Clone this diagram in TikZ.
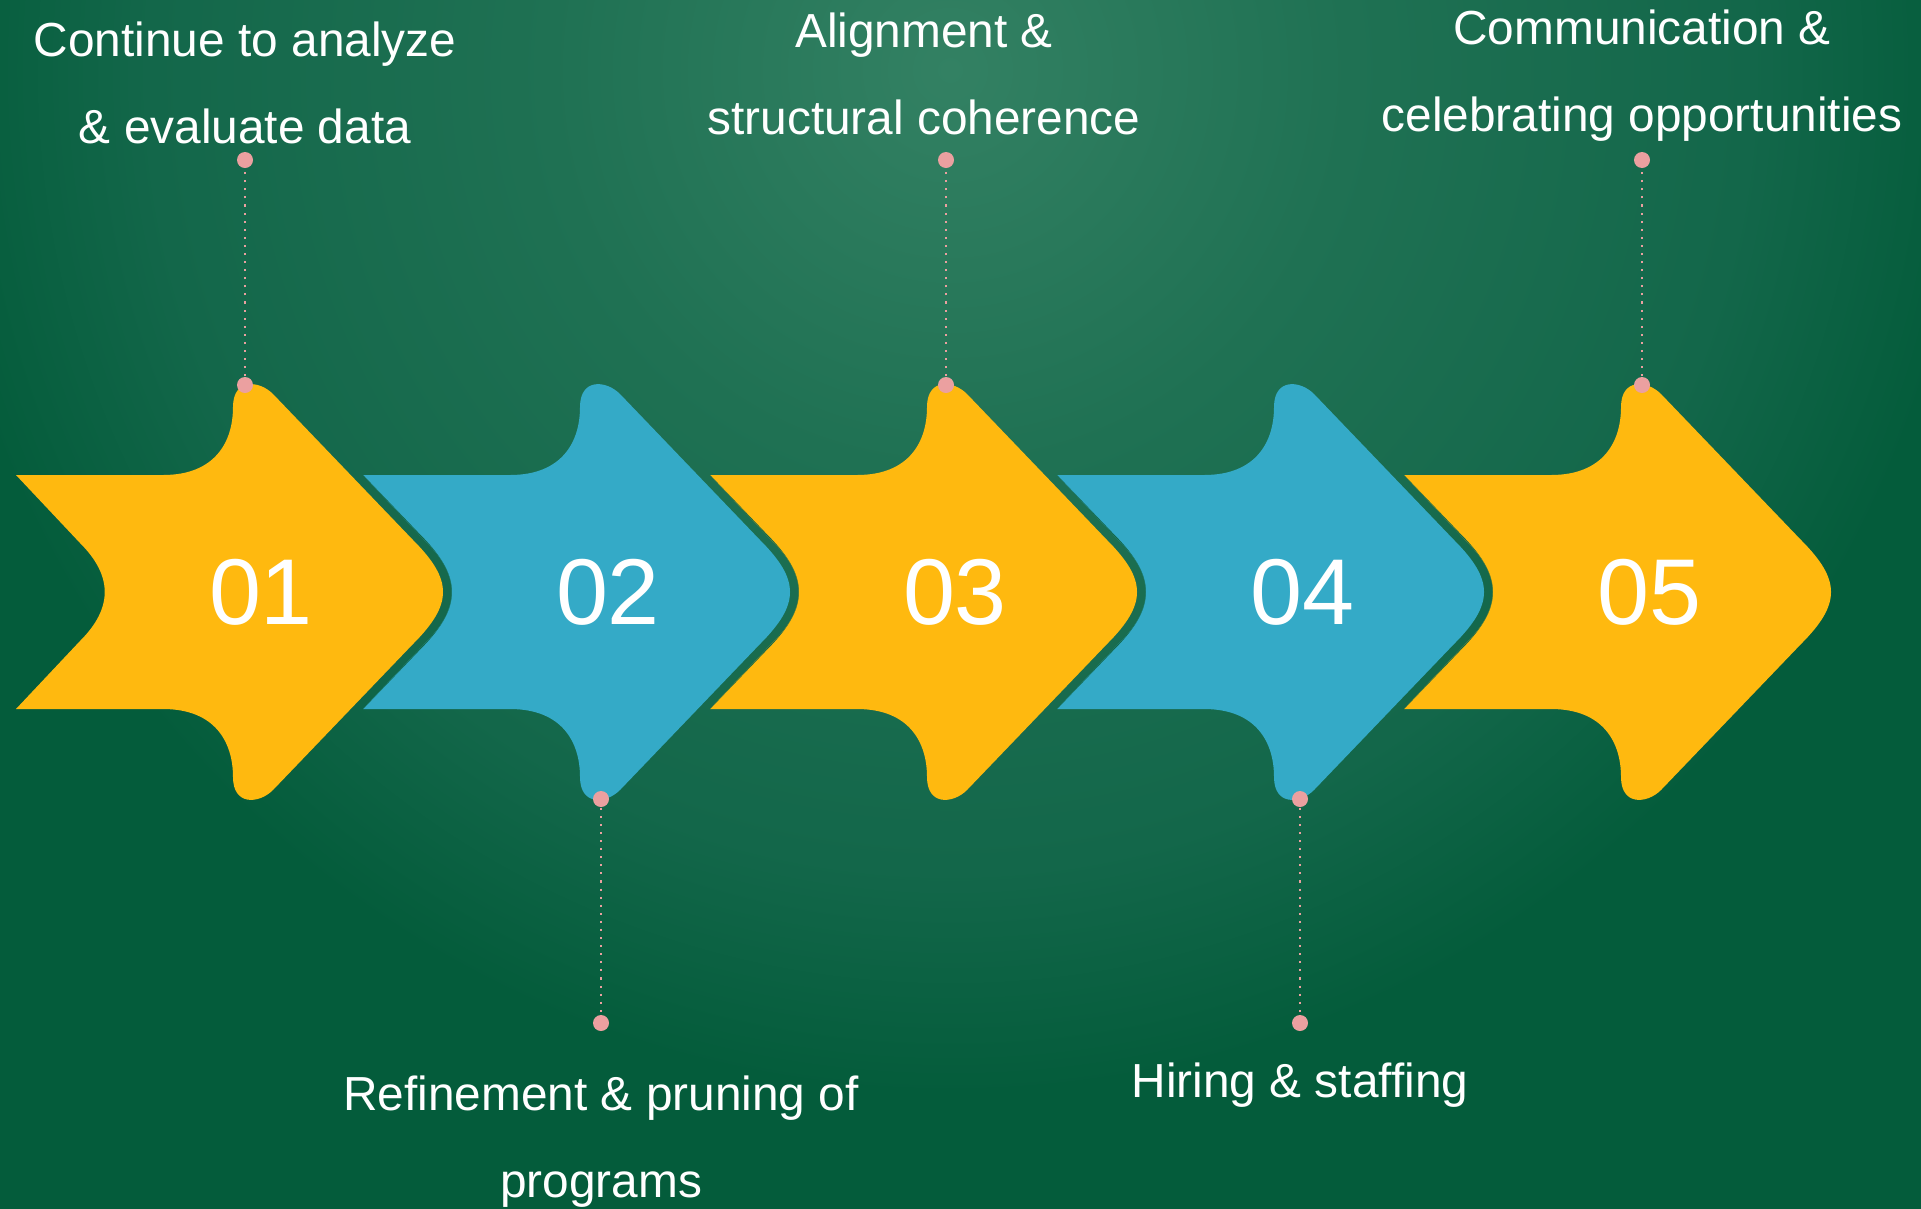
\documentclass[tikz,border=0pt]{standalone}
\usepackage{fontspec}
\setmainfont{Liberation Sans}
\usetikzlibrary{positioning,calc}

\definecolor{bgLight}{HTML}{338163}
\definecolor{bgMidA}{HTML}{1F7153}
\definecolor{bgMidB}{HTML}{13674A}
\definecolor{bgDark}{HTML}{045C3B}
\definecolor{edgeGreen}{HTML}{13684A}
\definecolor{arrowYellow}{HTML}{FFB90F}
\definecolor{arrowBlue}{HTML}{34AAC7}
\definecolor{dotPink}{HTML}{EBA0A0}

\pgfdeclareradialshading{bgGlow}{\pgfpoint{0bp}{0bp}}{color(0bp)=(bgLight); color(8bp)=(bgMidA); color(16bp)=(bgMidB); color(20.5bp)=(bgDark); color(50bp)=(bgDark)}

% one notched arrow, tail at (0,0), pointing right
\newcommand{\arrowPath}{(0,-117) -- (147,-117)
  .. controls (199,-117) and (217,-150) .. (217,-185)
  .. controls (217,-214) and (243,-212) .. (257,-198) -- (397,-52)
  .. controls (437,-12) and (437,12) .. (397,52) -- (257,198)
  .. controls (243,212) and (217,214) .. (217,185)
  .. controls (217,150) and (199,117) .. (147,117) -- (0,117) -- (64,49)
  .. controls (97,16) and (97,-16) .. (64,-49) -- cycle}

\tikzset{
  arrowEdge/.style={draw=edgeGreen,line width=5.1pt,line join=round},
  stepNum/.style={text=white,font=\fontsize{26.6}{30}\selectfont,inner sep=0pt},
  pinDot/.style={circle,fill=dotPink,minimum size=1.6mm,inner sep=0pt},
  pinLine/.style={draw=dotPink,line width=0.6pt,dash pattern=on 0.6pt off 1.7pt},
  stepLabel/.style={text=white,align=center,anchor=base,inner sep=0pt,
    font=\fontsize{13.6}{24.75}\selectfont},
}

\begin{document}
\begin{tikzpicture}[x=0.1mm, y=-0.1mm]

% ===== Background =====
\useasboundingbox (0,0) rectangle (1921,1208);
\begin{scope}
  \clip (-20,-20) rectangle (1941,1228);
  \fill[bgDark] (-20,-20) rectangle (1941,1228);
  \shade[shading=bgGlow] (950,70) circle (1250);
\end{scope}

% ===== Arrows (right to left, each one over the next) =====
\foreach \i/\col in {5/arrowYellow,4/arrowBlue,3/arrowYellow,2/arrowBlue,1/arrowYellow} {
  \pgfmathsetmacro{\tx}{16+347*(\i-1)}
  \ifnum\i<5
    \begin{scope}
      \clip[shift={(\tx+347,592)}] \arrowPath;
      \draw[arrowEdge,shift={(\tx,592)}] \arrowPath;
    \end{scope}
  \fi
  \fill[\col,shift={(\tx,592)}] \arrowPath;
  \node[stepNum] (n\i) at (\tx+245,592) {0\i};
}

% ===== Pins =====
\foreach \i/\x in {1/245,3/946,5/1642} {
  \node[pinDot] (a\i) at (\x,385) {};
  \node[pinDot] (b\i) at (\x,160) {};
  \draw[pinLine] (a\i) -- (b\i);
}
\foreach \i/\x in {2/601,4/1300} {
  \node[pinDot] (a\i) at (\x,799) {};
  \node[pinDot] (b\i) at (\x,1023) {};
  \draw[pinLine] (a\i) -- (b\i);
}

% ===== Labels (base = last line) =====
\node[stepLabel] (l1) at ($(b1)+(0,-17)$) {Continue to analyze\\\& evaluate data};
\node[stepLabel] (l3) at ($(b3)+(-22,-26)$) {Alignment \&\\structural coherence};
\node[stepLabel] (l5) at ($(b5)+(0,-29)$) {Communication \&\\celebrating opportunities};
\node[stepLabel] (l2) at ($(b2)+(0,174)$) {Refinement \& pruning of\\programs};
\node[stepLabel] (l4) at ($(b4)+(0,74)$) {Hiring \& staffing};

\end{tikzpicture}
\end{document}
